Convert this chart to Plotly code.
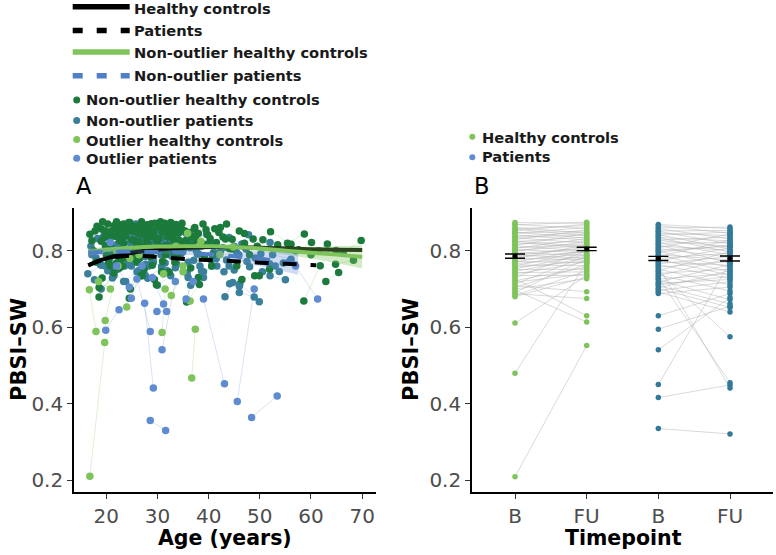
import plotly.graph_objects as go

# ---------------- Panel A data (age, PBSI-SW at baseline and follow-up) ----------------
# Non-outlier healthy controls
nhc_age_b = [16.8, 17.5, 18.0, 18.6, 18.6, 19.2, 19.0, 19.6, 20.3, 20.8, 21.2, 21.8, 22.3, 22.6, 23.0, 23.4, 23.9, 24.5, 24.7, 24.4,
             25.2, 25.7, 26.1, 26.5, 27.0, 27.5, 28.0, 28.4, 29.0, 29.8, 29.5, 30.3, 31.0, 31.8, 32.5, 33.2, 34.0, 34.8, 35.7, 35.5,
             36.5, 37.2, 38.9, 40.0, 40.8, 42.0, 43.5, 44.5, 45.5, 48.7, 47.0, 52.1, 53.5, 55.4, 57.0, 58.6, 60.0, 62.9, 61.5, 66.3,
             64.8, 30.8, 26.8, 20.0, 38.0, 49.0, 46.5, 17.2, 18.2, 19.9, 21.5, 22.9, 24.0, 25.5, 26.4, 27.8, 29.2, 30.6, 32.0, 33.6,
             35.0, 36.8, 39.8, 41.5, 20.5, 23.6, 28.7, 17.8, 19.3, 21.0, 22.0, 23.8, 25.0, 26.9, 28.2, 29.9, 31.4, 33.0, 34.2, 37.8,
             25.9, 31.6]
nhc_val_b = [0.843, 0.800, 0.771, 0.679, 0.704, 0.729, 0.858, 0.835, 0.870, 0.815, 0.787, 0.861, 0.842, 0.755, 0.868, 0.820, 0.797, 0.676, 0.700, 0.874,
             0.851, 0.826, 0.865, 0.780, 0.842, 0.810, 0.868, 0.848, 0.762, 0.711, 0.872, 0.833, 0.857, 0.815, 0.868, 0.795, 0.846, 0.872, 0.666, 0.827,
             0.755, 0.858, 0.870, 0.815, 0.790, 0.848, 0.870, 0.805, 0.760, 0.831, 0.845, 0.850, 0.816, 0.820, 0.800, 0.669, 0.790, 0.720, 0.800, 0.796,
             0.765, 0.745, 0.735, 0.790, 0.730, 0.735, 0.725, 0.826, 0.864, 0.812, 0.838, 0.803, 0.852, 0.796, 0.848, 0.826, 0.850, 0.808, 0.840, 0.860,
             0.812, 0.838, 0.842, 0.822, 0.771, 0.781, 0.785, 0.852, 0.876, 0.852, 0.876, 0.838, 0.866, 0.876, 0.836, 0.862, 0.872, 0.836, 0.828, 0.846,
             0.812, 0.800]
nhc_age_fu = [19.0, 20.2, 21.0, 21.5, 20.8, 22.0, 21.6, 22.4, 23.0, 23.5, 24.1, 24.6, 25.0, 25.3, 25.8, 26.2, 26.6, 27.0, 27.4, 27.2,
              28.0, 28.3, 28.8, 29.1, 29.8, 30.2, 30.6, 31.2, 31.6, 32.3, 32.0, 33.0, 33.6, 34.4, 35.0, 35.8, 36.7, 37.3, 38.2, 38.0,
              39.2, 39.5, 41.2, 42.8, 43.3, 44.6, 46.0, 47.0, 48.0, 50.6, 49.5, 56.1, 57.6, 58.7, 60.1, 61.8, 63.2, 65.4, 64.9, 69.8,
              68.3, 33.4, 29.4, 22.8, 40.6, 51.9, 49.9, 19.8, 20.6, 22.6, 23.9, 25.6, 26.9, 28.2, 29.0, 30.4, 31.9, 33.2, 34.6, 36.2,
              37.6, 39.0, 42.3, 44.0, 23.2, 26.0, 31.0, 20.4, 21.9, 23.4, 24.8, 26.3, 27.6, 29.5, 30.9, 32.6, 34.1, 35.4, 36.9, 40.3,
              28.5, 34.0]
nhc_val_fu = [0.825, 0.812, 0.790, 0.742, 0.760, 0.768, 0.866, 0.848, 0.856, 0.838, 0.803, 0.874, 0.829, 0.779, 0.852, 0.846, 0.812, 0.735, 0.752, 0.861,
              0.836, 0.858, 0.871, 0.800, 0.826, 0.833, 0.876, 0.861, 0.790, 0.744, 0.858, 0.848, 0.869, 0.802, 0.853, 0.821, 0.836, 0.861, 0.712, 0.845,
              0.782, 0.855, 0.858, 0.836, 0.831, 0.830, 0.852, 0.820, 0.790, 0.829, 0.812, 0.817, 0.803, 0.844, 0.822, 0.761, 0.818, 0.743, 0.801, 0.827,
              0.775, 0.770, 0.725, 0.778, 0.760, 0.752, 0.735, 0.852, 0.846, 0.826, 0.859, 0.789, 0.867, 0.818, 0.838, 0.812, 0.836, 0.826, 0.861, 0.848,
              0.828, 0.818, 0.861, 0.806, 0.760, 0.770, 0.772, 0.836, 0.862, 0.870, 0.858, 0.824, 0.848, 0.860, 0.850, 0.874, 0.856, 0.852, 0.814, 0.832,
              0.800, 0.790]

# Non-outlier patients
npt_age_b = [16.4, 17.7, 17.2, 18.3, 18.8, 19.5, 20.0, 21.2, 21.2, 21.6, 22.2, 22.9, 23.4, 23.8, 24.3, 24.9, 25.4, 26.0, 26.5, 27.0,
             27.6, 28.1, 28.6, 29.2, 29.8, 30.5, 31.2, 31.9, 32.7, 33.5, 34.3, 35.2, 36.0, 37.0, 38.0, 39.0, 40.2, 41.5, 43.2, 44.0,
             45.0, 46.0, 46.1, 45.5, 49.1, 51.9, 50.5, 52.5, 52.0, 53.0, 20.6, 25.8, 33.0, 19.0, 30.0, 36.5, 17.0, 22.6, 24.6, 27.3,
             30.9, 34.6, 38.6, 42.3, 47.3, 44.1, 18.0, 19.8, 21.9, 23.1, 25.0, 26.2, 28.3, 29.5, 31.5, 33.8, 35.8, 37.6, 40.6, 43.5,
             48.0]
npt_val_b = [0.740, 0.724, 0.790, 0.832, 0.765, 0.853, 0.805, 0.729, 0.744, 0.862, 0.818, 0.776, 0.720, 0.845, 0.796, 0.760, 0.838, 0.808, 0.750, 0.862,
             0.785, 0.728, 0.826, 0.772, 0.853, 0.800, 0.740, 0.836, 0.787, 0.756, 0.848, 0.810, 0.770, 0.830, 0.792, 0.745, 0.822, 0.780, 0.680, 0.835,
             0.750, 0.691, 0.714, 0.795, 0.781, 0.766, 0.745, 0.790, 0.735, 0.760, 0.780, 0.870, 0.860, 0.700, 0.710, 0.710, 0.812, 0.798, 0.822, 0.812,
             0.822, 0.792, 0.812, 0.798, 0.805, 0.714, 0.782, 0.760, 0.790, 0.828, 0.780, 0.795, 0.760, 0.815, 0.768, 0.822, 0.742, 0.800, 0.760, 0.776,
             0.758]
npt_age_fu = [19.0, 20.3, 19.8, 21.0, 21.4, 22.0, 22.7, 23.6, 23.8, 24.2, 24.8, 25.5, 26.0, 26.5, 27.0, 27.6, 28.0, 28.6, 29.2, 29.6,
              30.2, 30.8, 31.2, 31.9, 32.4, 33.0, 33.8, 34.5, 35.2, 36.0, 36.8, 37.8, 38.6, 39.6, 40.5, 41.6, 42.8, 44.0, 44.7, 46.5,
              47.5, 48.9, 49.9, 47.8, 52.0, 54.6, 53.8, 56.1, 55.0, 55.8, 23.0, 28.4, 35.6, 21.5, 32.6, 39.0, 19.4, 25.1, 27.3, 29.9,
              33.4, 37.1, 41.0, 45.0, 50.2, 46.0, 20.5, 22.2, 24.4, 25.7, 27.7, 28.9, 30.7, 32.1, 34.0, 36.4, 38.3, 40.0, 43.0, 45.9,
              51.0]
npt_val_fu = [0.762, 0.748, 0.815, 0.810, 0.790, 0.838, 0.780, 0.760, 0.720, 0.846, 0.800, 0.796, 0.745, 0.828, 0.812, 0.736, 0.852, 0.785, 0.770, 0.848,
              0.805, 0.758, 0.840, 0.748, 0.830, 0.818, 0.765, 0.822, 0.806, 0.730, 0.830, 0.792, 0.748, 0.843, 0.775, 0.760, 0.808, 0.760, 0.717, 0.818,
              0.772, 0.679, 0.667, 0.842, 0.822, 0.768, 0.746, 0.778, 0.724, 0.772, 0.800, 0.858, 0.846, 0.735, 0.735, 0.730, 0.836, 0.822, 0.790, 0.826,
              0.796, 0.775, 0.796, 0.812, 0.792, 0.707, 0.770, 0.752, 0.772, 0.814, 0.765, 0.776, 0.790, 0.800, 0.785, 0.808, 0.760, 0.815, 0.745, 0.790,
              0.772]

# Outlier healthy controls
ohc_age_b = [16.8, 16.7, 19.8, 24.0, 30.9, 32.7, 36.7, 35.0, 35.9, 18.5, 31.2, 42.2, 22.0]
ohc_val_b = [0.210, 0.698, 0.618, 0.653, 0.586, 0.683, 0.467, 0.760, 0.846, 0.720, 0.740, 0.790, 0.800]
ohc_age_fu = [19.7, 18.0, 22.3, 26.4, 31.5, 35.0, 37.4, 36.4, 38.5, 20.8, 33.6, 44.8, 24.6]
ohc_val_fu = [0.560, 0.589, 0.760, 0.790, 0.700, 0.745, 0.595, 0.669, 0.825, 0.700, 0.812, 0.810, 0.780]

# Outlier patients
opt_age_b = [28.6, 48.4, 27.5, 39.0, 45.6, 26.0, 30.9, 19.9, 24.9, 29.9, 29.0, 20.8, 35.6, 57.0, 22.0]
opt_val_b = [0.356, 0.364, 0.663, 0.674, 0.406, 0.726, 0.541, 0.592, 0.676, 0.641, 0.730, 0.822, 0.674, 0.760, 0.760]
opt_age_fu = [31.6, 53.4, 29.2, 43.1, 48.9, 28.6, 33.5, 22.5, 27.0, 31.8, 31.2, 23.0, 37.0, 61.3, 24.5]
opt_val_fu = [0.330, 0.420, 0.441, 0.452, 0.700, 0.589, 0.720, 0.646, 0.760, 0.641, 0.661, 0.800, 0.720, 0.674, 0.705]

# Smooth fits
fit_hc_age = [16.5, 19, 22, 25, 30, 35, 40, 45, 50, 55, 60, 65, 70]
fit_hc = [0.762, 0.776, 0.787, 0.795, 0.803, 0.808, 0.810, 0.810, 0.808, 0.806, 0.804, 0.803, 0.802]
fit_pt_age = [16.5, 19, 22, 25, 28, 32, 36, 40, 45, 50, 55, 61]
fit_pt = [0.762, 0.775, 0.784, 0.787, 0.786, 0.782, 0.778, 0.776, 0.773, 0.769, 0.766, 0.762]
fit_nhc_age = [16.5, 20, 25, 30, 35, 40, 45, 50, 55, 60, 65, 70]
fit_nhc = [0.797, 0.803, 0.808, 0.811, 0.812, 0.812, 0.810, 0.806, 0.800, 0.795, 0.790, 0.784]
fit_nhc_lo = [0.787, 0.797, 0.804, 0.807, 0.808, 0.808, 0.805, 0.799, 0.790, 0.780, 0.768, 0.754]
fit_nhc_hi = [0.807, 0.809, 0.812, 0.815, 0.816, 0.816, 0.815, 0.813, 0.810, 0.810, 0.812, 0.814]
fit_npt_age = [16.5, 20, 25, 30, 35, 40, 45, 50, 55, 57.5]
fit_npt = [0.795, 0.797, 0.798, 0.797, 0.795, 0.791, 0.786, 0.779, 0.771, 0.766]
fit_npt_lo = [0.783, 0.790, 0.793, 0.792, 0.790, 0.785, 0.776, 0.760, 0.745, 0.737]
fit_npt_hi = [0.807, 0.804, 0.803, 0.802, 0.800, 0.797, 0.796, 0.798, 0.797, 0.795]

# ---------------- Panel B data ----------------
tp_labels = ["B", "FU", "B", "FU"]
hc_b = [0.874, 0.869, 0.868, 0.861, 0.858, 0.857, 0.852, 0.849, 0.846, 0.846,
        0.841, 0.838, 0.835, 0.834, 0.829, 0.826, 0.824, 0.822, 0.817, 0.815,
        0.813, 0.808, 0.806, 0.803, 0.801, 0.799, 0.795, 0.793, 0.789, 0.787,
        0.784, 0.781, 0.779, 0.775, 0.772, 0.770, 0.766, 0.763, 0.760, 0.757,
        0.753, 0.751, 0.746, 0.743, 0.739, 0.735, 0.730, 0.727, 0.722, 0.718,
        0.713, 0.709, 0.704, 0.700, 0.697, 0.691, 0.688, 0.683, 0.680, 0.611,
        0.480, 0.209]
hc_fu = [0.872, 0.858, 0.875, 0.846, 0.866, 0.839, 0.870, 0.833, 0.852, 0.861,
         0.828, 0.848, 0.842, 0.820, 0.855, 0.811, 0.836, 0.807, 0.826, 0.845,
         0.799, 0.818, 0.832, 0.795, 0.814, 0.824, 0.788, 0.805, 0.780, 0.809,
         0.797, 0.776, 0.816, 0.792, 0.769, 0.803, 0.785, 0.761, 0.801, 0.773,
         0.790, 0.752, 0.782, 0.745, 0.771, 0.736, 0.800, 0.630, 0.757, 0.740,
         0.786, 0.693, 0.764, 0.727, 0.614, 0.779, 0.675, 0.748, 0.732, 0.735,
         0.770, 0.552]
pt_b = [0.869, 0.866, 0.860, 0.858, 0.852, 0.851, 0.846, 0.842, 0.841, 0.835,
        0.834, 0.828, 0.827, 0.821, 0.820, 0.815, 0.813, 0.808, 0.806, 0.801,
        0.799, 0.796, 0.790, 0.789, 0.785, 0.780, 0.778, 0.773, 0.771, 0.766,
        0.764, 0.759, 0.757, 0.752, 0.748, 0.746, 0.741, 0.737, 0.735, 0.730,
        0.726, 0.724, 0.718, 0.715, 0.711, 0.709, 0.703, 0.701, 0.696, 0.692,
        0.688, 0.630, 0.595, 0.541, 0.450, 0.416, 0.335]
pt_fu = [0.858, 0.846, 0.862, 0.831, 0.853, 0.818, 0.840, 0.805, 0.849, 0.826,
         0.797, 0.836, 0.811, 0.790, 0.822, 0.768, 0.801, 0.844, 0.783, 0.812,
         0.757, 0.815, 0.776, 0.745, 0.828, 0.794, 0.736, 0.808, 0.762, 0.785,
         0.728, 0.441, 0.772, 0.711, 0.798, 0.575, 0.752, 0.695, 0.780, 0.455,
         0.741, 0.672, 0.764, 0.725, 0.733, 0.661, 0.748, 0.652, 0.719, 0.640,
         0.705, 0.688, 0.655, 0.678, 0.770, 0.449, 0.321]
hc_mean = [0.786, 0.805]
hc_se = [0.0055, 0.0045]
pt_mean = [0.780, 0.780]
pt_se = [0.0055, 0.0065]

# ---------------- styling ----------------
C_NHC = "#1b7a3c"
C_NPT = "#3a7f9b"
C_OHC = "#7fc45b"
C_OPT = "#5f8bd0"
C_BPT = "#337a98"
FONT = "DejaVu Sans"
W, H = 776, 555


def pairs(xa, ya, xb, yb):
    xs, ys = [], []
    for a, b, c, d in zip(xa, ya, xb, yb):
        xs += [a, c, None]
        ys += [b, d, None]
    return xs, ys


fig = go.Figure()

# connecting lines, panel A
for ab, vb, af, vf, col in [
    (nhc_age_b + ohc_age_b, nhc_val_b + ohc_val_b, nhc_age_fu + ohc_age_fu, nhc_val_fu + ohc_val_fu, "rgba(127,196,91,0.35)"),
    (npt_age_b + opt_age_b, npt_val_b + opt_val_b, npt_age_fu + opt_age_fu, npt_val_fu + opt_val_fu, "rgba(95,139,208,0.35)"),
]:
    xs, ys = pairs(ab, vb, af, vf)
    fig.add_trace(go.Scatter(x=xs, y=ys, mode="lines", line=dict(color=col, width=0.7),
                             hoverinfo="skip", showlegend=False, xaxis="x", yaxis="y"))

# points, panel A
for ab, vb, af, vf, col in [
    (npt_age_b, npt_val_b, npt_age_fu, npt_val_fu, C_NPT),
    (nhc_age_b, nhc_val_b, nhc_age_fu, nhc_val_fu, C_NHC),
    (ohc_age_b, ohc_val_b, ohc_age_fu, ohc_val_fu, C_OHC),
    (opt_age_b, opt_val_b, opt_age_fu, opt_val_fu, C_OPT),
]:
    fig.add_trace(go.Scatter(x=ab + af, y=vb + vf, mode="markers",
                             marker=dict(color=col, size=7.5, line=dict(width=0)),
                             showlegend=False, xaxis="x", yaxis="y"))

# fits
fig.add_trace(go.Scatter(x=fit_hc_age, y=fit_hc, mode="lines", line=dict(color="black", width=4, shape="spline"),
                         showlegend=False, xaxis="x", yaxis="y"))
fig.add_trace(go.Scatter(x=fit_nhc_age, y=fit_nhc_lo, mode="lines", line=dict(width=0, shape="spline"),
                         showlegend=False, xaxis="x", yaxis="y", hoverinfo="skip"))
fig.add_trace(go.Scatter(x=fit_nhc_age, y=fit_nhc_hi, mode="lines", line=dict(width=0, shape="spline"),
                         fill="tonexty", fillcolor="rgba(127,196,91,0.35)",
                         showlegend=False, xaxis="x", yaxis="y", hoverinfo="skip"))
fig.add_trace(go.Scatter(x=fit_nhc_age, y=fit_nhc, mode="lines", line=dict(color=C_OHC, width=4, shape="spline"),
                         showlegend=False, xaxis="x", yaxis="y"))
fig.add_trace(go.Scatter(x=fit_npt_age, y=fit_npt_lo, mode="lines", line=dict(width=0, shape="spline"),
                         showlegend=False, xaxis="x", yaxis="y", hoverinfo="skip"))
fig.add_trace(go.Scatter(x=fit_npt_age, y=fit_npt_hi, mode="lines", line=dict(width=0, shape="spline"),
                         fill="tonexty", fillcolor="rgba(95,139,208,0.3)",
                         showlegend=False, xaxis="x", yaxis="y", hoverinfo="skip"))
fig.add_trace(go.Scatter(x=fit_npt_age, y=fit_npt, mode="lines",
                         line=dict(color="#4f7fc4", width=4, dash="14px,14px", shape="spline"),
                         showlegend=False, xaxis="x", yaxis="y"))
fig.add_trace(go.Scatter(x=fit_pt_age, y=fit_pt, mode="lines",
                         line=dict(color="black", width=4, dash="14px,14px", shape="spline"),
                         showlegend=False, xaxis="x", yaxis="y"))

# ---------------- panel B ----------------
xs, ys = pairs([1] * len(hc_b), hc_b, [2] * len(hc_fu), hc_fu)
fig.add_trace(go.Scatter(x=xs, y=ys, mode="lines", line=dict(color="rgba(175,175,175,0.6)", width=0.8),
                         hoverinfo="skip", showlegend=False, xaxis="x2", yaxis="y2"))
xs, ys = pairs([3] * len(pt_b), pt_b, [4] * len(pt_fu), pt_fu)
fig.add_trace(go.Scatter(x=xs, y=ys, mode="lines", line=dict(color="rgba(175,175,175,0.6)", width=0.8),
                         hoverinfo="skip", showlegend=False, xaxis="x2", yaxis="y2"))
fig.add_trace(go.Scatter(x=[1] * len(hc_b) + [2] * len(hc_fu), y=hc_b + hc_fu, mode="markers",
                         marker=dict(color=C_OHC, size=5.5), showlegend=False, xaxis="x2", yaxis="y2"))
fig.add_trace(go.Scatter(x=[3] * len(pt_b) + [4] * len(pt_fu), y=pt_b + pt_fu, mode="markers",
                         marker=dict(color=C_BPT, size=5.5), showlegend=False, xaxis="x2", yaxis="y2"))
fig.add_trace(go.Scatter(x=[1, 2], y=hc_mean, mode="markers", marker=dict(color="black", size=5),
                         error_y=dict(type="data", array=hc_se, color="black", thickness=1.4, width=10),
                         showlegend=False, xaxis="x2", yaxis="y2"))
fig.add_trace(go.Scatter(x=[3, 4], y=pt_mean, mode="markers", marker=dict(color="black", size=5),
                         error_y=dict(type="data", array=pt_se, color="black", thickness=1.4, width=10),
                         showlegend=False, xaxis="x2", yaxis="y2"))

# ---------------- layout ----------------
yd = [1 - 492 / H, 1 - 208 / H]
axis_common = dict(showline=True, linecolor="black", linewidth=1.6, ticks="outside", ticklen=5,
                   tickwidth=1.2, tickcolor="#333333", showgrid=False, zeroline=False,
                   tickfont=dict(family=FONT, size=20, color="#4d4d4d"))
fig.update_layout(
    width=W, height=H, autosize=False,
    margin=dict(l=0, r=0, t=0, b=0),
    paper_bgcolor="white", plot_bgcolor="white",
    showlegend=False,
    xaxis=dict(domain=[74 / W, 376 / W], anchor="y", range=[13.7, 72.7], tickvals=[20, 30, 40, 50, 60, 70], **axis_common),
    yaxis=dict(domain=yd, anchor="x", range=[0.169, 0.912], tickvals=[0.2, 0.4, 0.6, 0.8],
               ticktext=["0.2", "0.4", "0.6", "0.8"], **axis_common),
    xaxis2=dict(domain=[472 / W, 773 / W], anchor="y2", range=[0.4, 4.6], tickvals=[1, 2, 3, 4],
                ticktext=tp_labels, **axis_common),
    yaxis2=dict(domain=yd, anchor="x2", range=[0.169, 0.912], tickvals=[0.2, 0.4, 0.6, 0.8],
                ticktext=["0.2", "0.4", "0.6", "0.8"], **axis_common),
)


def pxx(p):
    return p / W


def pxy(p):
    return 1 - p / H


ann = []
shapes = []


def text(x, y, s, size, bold=True, color="#1a1a1a", xanchor="left", angle=0):
    ann.append(dict(x=pxx(x), y=pxy(y), xref="paper", yref="paper", text=("<b>%s</b>" % s) if bold else s,
                    showarrow=False, xanchor=xanchor, yanchor="middle", textangle=angle,
                    font=dict(family=FONT, size=size, color=color)))


# axis titles
text(225, 538, "Age (years)", 20.5, xanchor="center", color="black")
text(623, 538, "Timepoint", 20.5, xanchor="center", color="black")
text(19, 350, "PBSI–SW", 21, xanchor="center", color="black", angle=-90)
text(411, 350, "PBSI–SW", 21, xanchor="center", color="black", angle=-90)
# panel labels
text(74, 186, "A", 22.5, bold=False, color="black")
text(472, 186, "B", 22.5, bold=False, color="black")

# legend (lines)
leg_lines = [
    ("Healthy controls", "black", None, 6.7, 8.2),
    ("Patients", "black", "10px,14px", 30.5, 30.2),
    ("Non-outlier healthy controls", C_OHC, None, 52, 52.2),
    ("Non-outlier patients", "#4f7fc4", "10px,14px", 75.8, 75.6),
]
for lab, col, dash, ly, ty in leg_lines:
    shapes.append(dict(type="line", xref="paper", yref="paper", x0=pxx(72.7), x1=pxx(129.7), y0=pxy(ly), y1=pxy(ly),
                       line=dict(color=col, width=5.5, dash=dash if dash else "solid")))
    text(132, ty, lab, 14.7)

# legend (points)
leg_pts = [
    ("Non-outlier healthy controls", C_NHC, 100, 99.2),
    ("Non-outlier patients", C_NPT, 120.5, 120.6),
    ("Outlier healthy controls", C_OHC, 139.5, 140),
    ("Outlier patients", C_OPT, 158.3, 158.3),
]
for lab, col, dy, ty in leg_pts:
    shapes.append(dict(type="circle", xref="paper", yref="paper", x0=pxx(73.2), x1=pxx(80.2),
                       y0=pxy(dy + 3.5), y1=pxy(dy - 3.5), fillcolor=col, line=dict(width=0)))
    text(83.5, ty, lab, 14.7)

for lab, col, dy, ty in [("Healthy controls", C_OHC, 136.7, 137.6), ("Patients", C_OPT, 157.3, 156.6)]:
    shapes.append(dict(type="circle", xref="paper", yref="paper", x0=pxx(469.3), x1=pxx(475.3),
                       y0=pxy(dy + 3), y1=pxy(dy - 3), fillcolor=col, line=dict(width=0)))
    text(479.5, ty, lab, 14.7)

fig.update_layout(annotations=ann, shapes=shapes)
fig.write_html("out.html", config={"displayModeBar": False},
               post_script="document.body.style.margin='0px';")
